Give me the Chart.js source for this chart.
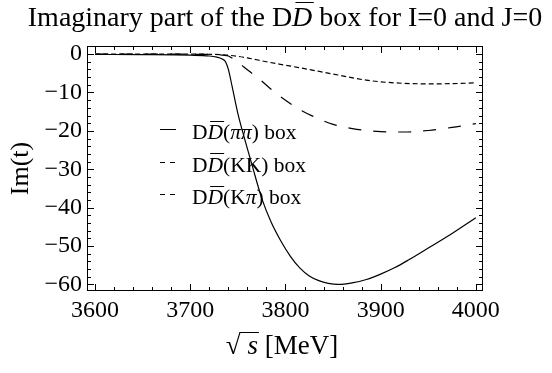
<!DOCTYPE html>
<html>
<head>
<meta charset="utf-8">
<script src="https://cdn.jsdelivr.net/npm/chart.js@4.4.1/dist/chart.umd.min.js"></script>
<style>
  html, body { margin: 0; padding: 0; background: #fff; }
</style>
</head>
<body>
<canvas id="chart" width="552" height="373"></canvas>
<script>
// values
const xPiPi = [3600, 3650, 3700, 3720, 3728, 3733, 3737, 3740, 3744, 3750, 3757, 3765, 3775, 3785, 3795, 3805, 3815, 3825, 3835, 3845, 3855, 3870, 3885, 3900, 3915, 3930, 3950, 3975, 4000];
const yPiPi = [-0.1, -0.15, -0.3, -0.5, -0.8, -1.2, -2.0, -4.0, -8.5, -15.5, -22, -29, -37.5, -43.8, -48.6, -52.6, -55.7, -57.8, -59.0, -59.7, -60.0, -59.6, -58.7, -57.3, -55.6, -53.5, -50.5, -46.7, -42.6];

const xKK = [3600, 3700, 3725, 3740, 3750, 3760, 3780, 3800, 3820, 3850, 3885, 3915, 3950, 3975, 4000];
const yKK = [0, -0.02, -0.08, -0.3, -0.6, -1.0, -2.0, -2.9, -3.8, -5.2, -6.8, -7.5, -7.75, -7.7, -7.5];

const xKPi = [3600, 3700, 3725, 3735, 3740, 3748, 3761, 3775, 3787, 3800, 3814, 3828, 3850, 3875, 3900, 3925, 3950, 3975, 4000];
const yKPi = [0, -0.05, -0.15, -0.3, -0.5, -1.75, -4.3, -7.0, -9.6, -12.0, -14.3, -16.1, -18.3, -19.6, -20.2, -20.3, -19.9, -19.1, -18.1];

const seriesNames = ['DD\u0304(\u03c0\u03c0) box', 'DD\u0304(KK) box', 'DD\u0304(K\u03c0) box'];
const xTicks = [3600, 3700, 3800, 3900, 4000];
const yTicks = [0, -10, -20, -30, -40, -50, -60];
const titleText = 'Imaginary part of the DD\u0304 box for I=0 and J=0';
const xTitle = '\u221a s\u0304 [MeV]';
const yTitle = 'Im(t)';

const FONT = "'Liberation Serif', 'Times New Roman', serif";

function pts(xs, ys) {
  return xs.map((x, i) => ({ x: x, y: ys[i] }));
}

// draws text where "c\u0304" means italic c with a bar over it, and pi is italic
function drawRich(ctx, text, x, y, size, align) {
  let runs = [];
  let plain = '';
  for (let i = 0; i < text.length; i++) {
    let ch = text[i];
    if (text[i + 1] === '\u0304') {
      if (plain) { runs.push({ t: plain }); plain = ''; }
      runs.push({ t: ch, it: true, bar: true });
      i++;
    } else if (ch === '\u03c0') {
      if (plain) { runs.push({ t: plain }); plain = ''; }
      runs.push({ t: ch, it: true });
    } else {
      plain += ch;
    }
  }
  if (plain) runs.push({ t: plain });

  let total = 0;
  runs.forEach((r) => {
    ctx.font = (r.it ? 'italic ' : '') + size + 'px ' + FONT;
    r.w = ctx.measureText(r.t).width;
    total += r.w;
  });
  let cx = align === 'center' ? x - total / 2 : x;
  ctx.textBaseline = 'alphabetic';
  ctx.textAlign = 'left';
  runs.forEach((r, k) => {
    ctx.font = (r.it ? 'italic ' : '') + size + 'px ' + FONT;
    ctx.fillText(r.t, cx, y);
    if (r.bar) {
      let prev = runs[k - 1];
      let root = prev && prev.t.indexOf('\u221a') >= 0;
      let by = Math.round(y - size * (root ? 0.8 : 0.86)) + 0.5;
      ctx.lineWidth = 1;
      ctx.beginPath();
      ctx.moveTo(cx + (root ? -size * 0.3 : size * 0.12), by);
      ctx.lineTo(cx + r.w + (root ? 1 : size * 0.05), by);
      ctx.stroke();
    }
    cx += r.w;
  });
}

const framePlugin = {
  id: 'frame',
  afterDatasetsDraw(chart) {
    const { ctx, chartArea: a, scales } = chart;
    const x = scales.x, y = scales.y;
    ctx.save();
    ctx.strokeStyle = '#000';
    ctx.lineWidth = 1;
    ctx.strokeRect(a.left + 0.5, a.top + 0.5, a.right - a.left - 1, a.bottom - a.top - 1);
    ctx.beginPath();
    for (let v = 3600; v <= 4000; v += 20) {
      let len = xTicks.includes(v) ? 7 : 4;
      let px = Math.round(x.getPixelForValue(v)) + 0.5;
      ctx.moveTo(px, a.bottom);
      ctx.lineTo(px, a.bottom - len);
      ctx.moveTo(px, a.top);
      ctx.lineTo(px, a.top + len);
    }
    for (let v = -60; v <= 0; v += 2) {
      let len = yTicks.includes(v) ? 7 : 4;
      let py = Math.round(y.getPixelForValue(v)) + 0.5;
      ctx.moveTo(a.left, py);
      ctx.lineTo(a.left + len, py);
      ctx.moveTo(a.right, py);
      ctx.lineTo(a.right - len, py);
    }
    ctx.stroke();
    ctx.restore();
  },
  afterDraw(chart) {
    const { ctx } = chart;
    ctx.save();
    ctx.fillStyle = '#000';
    ctx.strokeStyle = '#000';
    drawRich(ctx, titleText, 285, 26, 28, 'center');
    drawRich(ctx, xTitle, 282, 354, 27, 'center');

    // legend inside the plot
    chart.data.datasets.forEach((ds, i) => {
      let base = 139 + i * 32.5;
      ctx.save();
      ctx.lineWidth = 1;
      ctx.setLineDash(ds.legendDash);
      ctx.beginPath();
      ctx.moveTo(160, Math.round(base - 10) + 0.5);
      ctx.lineTo(176, Math.round(base - 10) + 0.5);
      ctx.stroke();
      ctx.restore();
      drawRich(ctx, ds.label, 192, base, 21.5, 'left');
    });
    ctx.restore();
  }
};

new Chart(document.getElementById('chart'), {
  type: 'line',
  data: {
    datasets: [
      {
        label: seriesNames[0],
        data: pts(xPiPi, yPiPi),
        borderColor: '#000',
        borderWidth: 1.2,
        legendDash: [],
      },
      {
        label: seriesNames[1],
        data: pts(xKK, yKK),
        borderColor: '#000',
        borderWidth: 1.2,
        borderDash: [5, 3],
        legendDash: [5, 5],
      },
      {
        label: seriesNames[2],
        data: pts(xKPi, yKPi),
        borderColor: '#000',
        borderWidth: 1.2,
        borderDash: [13, 12],
        legendDash: [5, 5],
      },
    ],
  },
  options: {
    responsive: false,
    animation: false,
    cubicInterpolationMode: 'monotone',
    elements: { point: { radius: 0 } },
    layout: { padding: { top: 46, right: 69, left: 0, bottom: 0 } },
    plugins: {
      legend: { display: false },
      title: { display: false },
      tooltip: { enabled: false },
    },
    scales: {
      x: {
        type: 'linear',
        min: 3591.5,
        max: 4007.5,
        grid: { display: false, drawTicks: false },
        border: { display: false },
        afterBuildTicks: (scale) => { scale.ticks = xTicks.map((v) => ({ value: v })); },
        afterFit: (scale) => { scale.height = 82; },
        ticks: {
          color: '#000',
          padding: 5,
          maxRotation: 0,
          font: { family: FONT, size: 24 },
          callback: (v) => String(v),
        },
      },
      y: {
        type: 'linear',
        min: -61.7,
        max: 2.1,
        grid: { display: false, drawTicks: false },
        border: { display: false },
        afterBuildTicks: (scale) => { scale.ticks = yTicks.map((v) => ({ value: v })); },
        afterFit: (scale) => { scale.width = 87; },
        ticks: {
          color: '#000',
          padding: 5,
          font: { family: FONT, size: 24 },
          callback: (v) => (v < 0 ? '\u2212' + Math.abs(v) : String(v)),
        },
        title: {
          display: true,
          text: yTitle,
          color: '#000',
          font: { family: FONT, size: 26 },
          padding: { top: 6, bottom: 0 },
        },
      },
    },
  },
  plugins: [framePlugin],
});
</script>
</body>
</html>
